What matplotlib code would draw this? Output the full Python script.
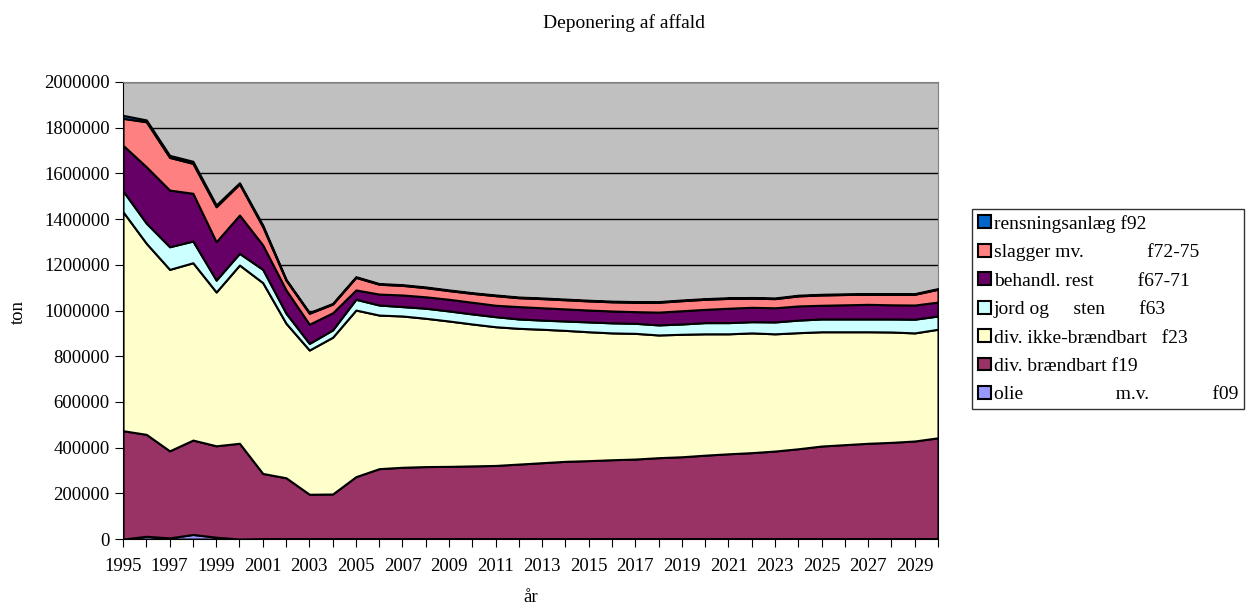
import numpy as np
import matplotlib.pyplot as plt

plt.rcParams['font.family'] = ['Liberation Serif', 'DejaVu Serif']

years = list(range(1995, 2031))

# tons per fraction (thousands)
olie = [0, 12, 5, 20, 8, 0] + [2] * 30
braendbart = [474, 446, 381, 413, 400, 419, 285, 266, 194, 195, 271, 306, 312, 315, 316, 318,
              320, 326, 332, 338, 341, 345, 348, 354, 358, 365, 371, 376, 383, 393, 405, 411,
              417, 421, 427, 441]
ikke_braendbart = [958, 836, 794, 776, 673, 780, 835, 676, 631, 686, 729, 672, 662, 649, 636, 621,
                   607, 594, 584, 573, 564, 555, 550, 537, 536, 531, 525, 524, 513, 508, 500, 494,
                   488, 483, 473, 475]
jord_sten = [91, 88, 99, 95, 52, 51, 58, 44, 29, 32, 47, 44, 41, 44, 44, 44, 44, 41, 40, 41, 43,
             44, 44, 44, 45, 49, 49, 49, 52, 55, 56, 56, 56, 57, 60, 58]
behandl_rest = [200, 247, 248, 209, 168, 168, 107, 102, 84, 75, 41, 48, 51, 50, 51, 51, 50, 54, 54,
                53, 52, 52, 51, 56, 58, 58, 63, 63, 62, 62, 60, 62, 64, 62, 62, 61]
slagger = [118, 197, 143, 131, 153, 136, 80, 43, 48, 38, 55, 43, 42, 40, 38, 39, 42, 39, 40, 40,
           40, 40, 41, 43, 44, 44, 43, 40, 40, 44, 45, 45, 44, 46, 47, 56]
rensning = [13, 8, 9, 9, 8, 5, 7] + [3] * 29

labels = ["olie                   m.v.             f09",
          "div. brændbart f19",
          "div. ikke-brændbart   f23",
          "jord og     sten       f63",
          "behandl. rest         f67-71",
          "slagger mv.             f72-75",
          "rensningsanlæg f92"]
colors = ["#9999FF", "#993366", "#FFFFCC", "#CCFFFF", "#660066", "#FF8080", "#0066CC"]

series = np.array([olie, braendbart, ikke_braendbart, jord_sten, behandl_rest, slagger, rensning]) * 1000

fig = plt.figure(figsize=(12.48, 6.11), dpi=100)
ax = fig.add_axes([0.0986, 0.1178, 0.6530, 0.7480])
ax.set_facecolor("#C0C0C0")

polys = ax.stackplot(years, series, colors=colors, labels=labels,
                     edgecolor="black", linewidth=1.5, zorder=3)

ax.set_xlim(1995, 2030)
ax.set_ylim(0, 2000000)
ax.set_yticks(range(0, 2000001, 200000))
ax.set_yticklabels([str(v) for v in range(0, 2000001, 200000)])
ax.set_xticks(range(1995, 2031))
ax.set_xticklabels([str(y) if (y - 1995) % 2 == 0 else "" for y in years])
ax.yaxis.grid(True, color="black", linewidth=1)
ax.set_axisbelow(True)
ax.tick_params(labelsize=13.5, length=6, direction="out", color="black")
ax.tick_params(axis="x", pad=8)
for s in ax.spines.values():
    s.set_color("#808080")
ax.spines['left'].set_color("black")
ax.spines['bottom'].set_color("black")

fig.text(18 / 1248, 0.49, "ton", rotation=90, ha="center", va="center", fontsize=13.5)
ax.set_xlabel("år", fontsize=13.5, labelpad=10)
fig.text(0.5, 0.962, "Deponering af affald", ha="center", va="center", fontsize=14)

h, l = ax.get_legend_handles_labels()
leg = fig.legend(h[::-1], l[::-1], loc="upper left", bbox_to_anchor=(0.779, 0.658),
                 fontsize=14, frameon=True, fancybox=False, edgecolor="black",
                 handlelength=0.65, handleheight=0.65, handletextpad=0.15,
                 labelspacing=0.56, borderpad=0.3, borderaxespad=0)
leg.get_frame().set_linewidth(1.0)

fig.savefig("out.png", dpi=100)
